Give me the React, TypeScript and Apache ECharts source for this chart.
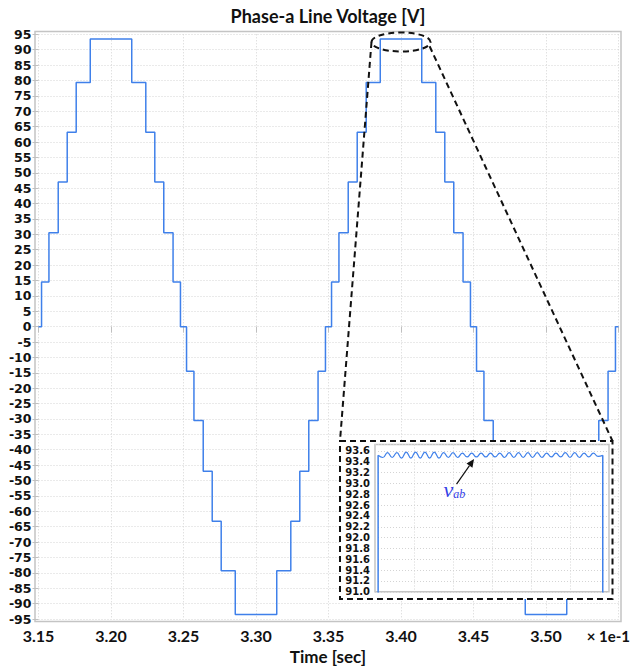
import React, { useEffect, useRef } from "react";
import * as echarts from "echarts";

// Staircase line voltage: each level holds from its start time to the next one (time in units of 1e-1 s).
const stepTimes = [
  3.15, 3.1521, 3.1572, 3.1636, 3.1698, 3.176, 3.1857, 3.2143, 3.224, 3.2302, 3.2364, 3.2428, 3.2479,
  3.2521, 3.2572, 3.2636, 3.2698, 3.276, 3.2857, 3.3143, 3.324, 3.3302, 3.3364, 3.3428, 3.3479,
  3.3521, 3.3572, 3.3636, 3.3698, 3.376, 3.3857, 3.4143, 3.424, 3.4302, 3.4364, 3.4428, 3.4479,
  3.4521, 3.4572, 3.4636, 3.4698, 3.476, 3.4857, 3.5143, 3.524, 3.5302, 3.5364, 3.5428, 3.5479, 3.55,
];
const stepLevels = [
  0, 14.5, 30.5, 47, 63.2, 79.3, 93.5, 79.3, 63.2, 47, 30.5, 14.5, 0,
  -14.5, -30.5, -47, -63.2, -79.3, -93.5, -79.3, -63.2, -47, -30.5, -14.5, 0,
  14.5, 30.5, 47, 63.2, 79.3, 93.5, 79.3, 63.2, 47, 30.5, 14.5, 0,
  -14.5, -30.5, -47, -63.2, -79.3, -93.5, -79.3, -63.2, -47, -30.5, -14.5, 0, 0,
];

// Zoomed plateau: switching ripple on top of the 93.5 V level.
const plateauStart = 3.3854;
const plateauEnd = 3.4142;
const plateauLevel = 93.52;
const rippleTimes = [
  3.386, 3.3866, 3.3872, 3.3878, 3.3884, 3.389, 3.3896, 3.3902, 3.3908, 3.3914, 3.392, 3.3926,
  3.3932, 3.3938, 3.3944, 3.395, 3.3956, 3.3962, 3.3968, 3.3974, 3.398, 3.3986, 3.3992, 3.3998,
  3.4004, 3.401, 3.4016, 3.4022, 3.4028, 3.4034, 3.404, 3.4046, 3.4052, 3.4058, 3.4064, 3.407,
  3.4076, 3.4082, 3.4088, 3.4094, 3.41, 3.4106, 3.4112, 3.4118, 3.4124, 3.413, 3.4136,
];
const rippleValues = [
  93.48, 93.57, 93.48, 93.57, 93.47, 93.58, 93.47, 93.58, 93.47, 93.58, 93.47, 93.58,
  93.47, 93.57, 93.48, 93.57, 93.48, 93.56, 93.49, 93.56, 93.49, 93.56, 93.49, 93.56,
  93.49, 93.56, 93.48, 93.57, 93.48, 93.57, 93.48, 93.57, 93.48, 93.57, 93.48, 93.56,
  93.49, 93.56, 93.49, 93.57, 93.48, 93.57, 93.48, 93.56, 93.49, 93.56, 93.5,
];

const mainX = { min: 3.15, max: 3.55, interval: 0.05 };
const mainY = { min: -95, max: 95, interval: 5 };
const insetX = { min: 3.385, max: 3.415, interval: 0.005 };
const insetY = { min: 91.0, max: 93.72, interval: 0.2 };

const LINE = "#3f80ea";
const FONT = "Lato, 'Open Sans', sans-serif";
const TICK_FONT = "'DejaVu Sans', Lato, sans-serif";
const SERIF = "'Liberation Serif', 'DejaVu Serif', serif";
const LABEL_BLUE = "#3340e6";
const GRID_LINE = { color: "#d4d4d4", width: 1, type: [1, 2] as number[] };

export default function App() {
  const ref = useRef<HTMLDivElement>(null);

  useEffect(() => {
    if (!ref.current) return;
    const chart = echarts.init(ref.current, null, { renderer: "svg" });

    const stepData = stepTimes.map((t, i) => [t, stepLevels[i]]);
    const rippleData = [
      [plateauStart, plateauLevel],
      ...rippleTimes.map((t, i) => [t, rippleValues[i]]),
      [plateauEnd, plateauLevel],
    ];

    chart.setOption({
      animation: false,
      grid: [
        { left: 38.5, top: 34.3, right: 15.5, bottom: 48 },
        {
          left: 375, top: 444.5, width: 234, height: 147.3, show: true, z: 6,
          borderColor: "#c4c4c4", borderWidth: 1.5, backgroundColor: "transparent",
        },
      ],
      xAxis: [
        {
          type: "value", gridIndex: 0, ...mainX,
          axisLine: { show: false },
          axisTick: { show: true, length: 6, lineStyle: { color: "#c0c0c0" } },
          splitLine: { show: true, lineStyle: GRID_LINE },
          axisLabel: {
            margin: 8, color: "#111", fontFamily: FONT, fontWeight: "bold", fontSize: 16,
            formatter: (v: number) => (v > 3.549 ? "" : v.toFixed(2)),
          },
        },
        {
          type: "value", gridIndex: 1, ...insetX, z: 6,
          axisLine: { show: false }, axisTick: { show: false }, axisLabel: { show: false },
          splitLine: { show: true, lineStyle: GRID_LINE },
        },
      ],
      yAxis: [
        {
          type: "value", gridIndex: 0, ...mainY,
          axisLine: { show: false },
          axisTick: { show: true, length: 6, lineStyle: { color: "#c0c0c0" } },
          splitLine: { show: true, lineStyle: GRID_LINE },
          axisLabel: {
            margin: 7, color: "#111", fontFamily: TICK_FONT, fontWeight: "bold", fontSize: 12.5,
            showMinLabel: true, showMaxLabel: true,
            formatter: (v: number) => String(Math.round(v)),
          },
        },
        {
          type: "value", gridIndex: 1, ...insetY, z: 6,
          axisLine: { show: false }, axisTick: { show: false },
          splitLine: { show: true, lineStyle: GRID_LINE },
          axisLabel: {
            margin: 5, color: "#111", fontFamily: TICK_FONT, fontWeight: "bold", fontSize: 10,
            showMinLabel: true, showMaxLabel: false,
            formatter: (v: number) => v.toFixed(1),
          },
        },
      ],
      series: [
        {
          type: "line", xAxisIndex: 0, yAxisIndex: 0, data: stepData, step: "end",
          showSymbol: false, z: 2, lineStyle: { color: LINE, width: 1.5 },
        },
        {
          type: "line", xAxisIndex: 1, yAxisIndex: 1, data: rippleData, smooth: 0.5,
          showSymbol: false, z: 7, lineStyle: { color: LINE, width: 1.2 },
        },
        {
          type: "line", xAxisIndex: 1, yAxisIndex: 1,
          data: [[plateauStart, insetY.min - 1], [plateauStart, plateauLevel]],
          showSymbol: false, z: 7, lineStyle: { color: LINE, width: 1.5 },
        },
        {
          type: "line", xAxisIndex: 1, yAxisIndex: 1,
          data: [[plateauEnd, plateauLevel], [plateauEnd, insetY.min - 1]],
          showSymbol: false, z: 7, lineStyle: { color: LINE, width: 1.5 },
        },
      ],
    });

    // Annotations: zoom ellipse on the second peak, connectors, inset frame and the v_ab pointer.
    const peak = chart.convertToPixel({ gridIndex: 0 }, [3.4, 92.5]) as number[];
    const tip = chart.convertToPixel({ gridIndex: 1 }, [3.3977, 93.45]) as number[];
    const rx = 29.5;
    const ry = 9.5;
    const frame = { x: 340, y: 441, w: 272.5, h: 158 };
    const dash = { stroke: "#111", lineWidth: 2, lineDash: [6, 4], fill: null };

    const dir = [17.5, -25];
    const len = Math.hypot(dir[0], dir[1]);
    const u = [dir[0] / len, dir[1] / len];
    const n = [-u[1], u[0]];
    const tail = [tip[0] - dir[0], tip[1] - dir[1]];
    const headLen = 8;
    const headW = 3.6;
    const base = [tip[0] - u[0] * headLen, tip[1] - u[1] * headLen];

    chart.setOption({
      graphic: [
        {
          type: "rect", z: 0, silent: true,
          shape: { x: 35, y: 31.5, width: 586, height: 590 },
          style: { fill: null, stroke: "#c4c4c4", lineWidth: 1.5 },
        },
        {
          type: "text", z: 10, x: 328, y: 16,
          style: {
            text: "Phase-a Line Voltage [V]", fill: "#111", align: "center", verticalAlign: "middle",
            font: `bold 18px ${FONT}`,
          },
        },
        {
          type: "text", z: 10, x: 328, y: 656,
          style: {
            text: "Time [sec]", fill: "#111", align: "center", verticalAlign: "middle",
            font: `bold 17px ${FONT}`,
          },
        },
        {
          type: "text", z: 10, x: 630, y: 636,
          style: {
            text: "× 1e-1", fill: "#111", align: "right", verticalAlign: "middle",
            font: `bold 15px ${FONT}`,
          },
        },
        {
          type: "rect", z: 5, silent: true,
          shape: { x: frame.x, y: frame.y, width: frame.w, height: frame.h },
          style: { ...dash, fill: "#fff" },
        },
        {
          type: "ellipse", z: 10, silent: true,
          shape: { cx: peak[0], cy: peak[1], rx, ry },
          style: dash,
        },
        {
          type: "line", z: 10, silent: true,
          shape: { x1: peak[0] - rx, y1: peak[1], x2: frame.x, y2: frame.y },
          style: dash,
        },
        {
          type: "line", z: 10, silent: true,
          shape: { x1: peak[0] + rx * 0.97, y1: peak[1] + ry * 0.45, x2: frame.x + frame.w, y2: frame.y },
          style: dash,
        },
        {
          type: "line", z: 10, silent: true,
          shape: { x1: tail[0], y1: tail[1], x2: base[0], y2: base[1] },
          style: { stroke: "#111", lineWidth: 1.2 },
        },
        {
          type: "polygon", z: 10, silent: true,
          shape: {
            points: [
              [tip[0], tip[1]],
              [base[0] + n[0] * headW, base[1] + n[1] * headW],
              [base[0] - n[0] * headW, base[1] - n[1] * headW],
            ],
          },
          style: { fill: "#111" },
        },
        {
          type: "text", z: 10, x: tail[0] - 13, y: tail[1] - 6,
          style: {
            text: "{v|v}{s|ab}",
            align: "left",
            verticalAlign: "top",
            rich: {
              v: { font: `italic 22px ${SERIF}`, fill: LABEL_BLUE, lineHeight: 22, verticalAlign: "bottom" },
              s: { font: `italic 12px ${SERIF}`, fill: LABEL_BLUE, lineHeight: 6, verticalAlign: "bottom" },
            },
          },
        },
      ],
    });

    return () => chart.dispose();
  }, []);

  return (
    <div
      ref={ref}
      style={{ position: "fixed", left: 0, top: 0, width: 634, height: 667, background: "#fff" }}
    />
  );
}
